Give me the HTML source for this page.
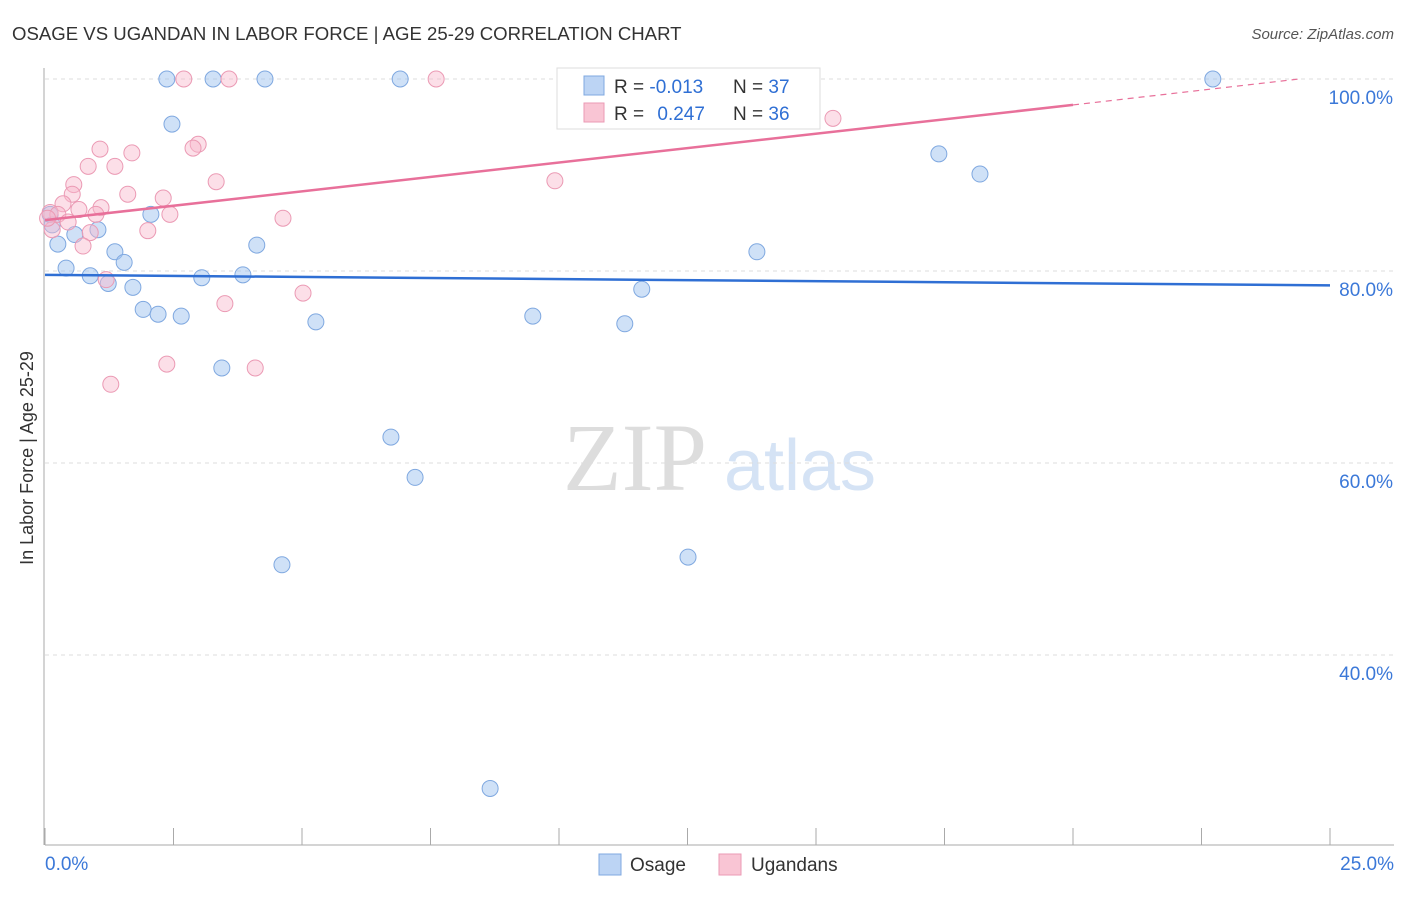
<!DOCTYPE html>
<html><head><meta charset="utf-8"><style>
body{margin:0;background:#fff;font-family:"Liberation Sans",sans-serif;}
</style></head><body>
<svg id="c" width="1406" height="892" font-family="Liberation Sans, sans-serif">
<text x="12" y="40" font-size="18.6" fill="#333">OSAGE VS UGANDAN IN LABOR FORCE | AGE 25-29 CORRELATION CHART</text>
<text x="1394" y="39" font-size="15" fill="#555" text-anchor="end" font-style="italic">Source: ZipAtlas.com</text>
<text x="33" y="458" font-size="18" fill="#333" text-anchor="middle" transform="rotate(-90 33 458)">In Labor Force | Age 25-29</text>
<g>
<text x="635" y="490" font-size="96" fill="#ddd" text-anchor="middle" style="font-family:'Liberation Serif',serif">ZIP</text>
<text x="800" y="490" font-size="72" fill="#d5e3f5" text-anchor="middle">atlas</text></g>
<g id="grid"></g><g id="axes"></g><g id="pts"></g><g id="trend"></g>
<g>
<rect x="557" y="68" width="263" height="61" fill="#fff" stroke="#ddd"/>
<rect x="584" y="76" width="20" height="19" fill="#bcd4f4" stroke="#7fa8e0"/>
<rect x="584" y="103" width="20" height="19" fill="#f9c5d4" stroke="#eb9ab4"/>
<text x="614" y="93" font-size="19" fill="#333">R = <tspan fill="#2f6fd4">-0.013</tspan></text>
<text x="733" y="93" font-size="19" fill="#333">N = <tspan fill="#2f6fd4">37</tspan></text>
<text x="614" y="120" font-size="19" fill="#333">R = <tspan fill="#2f6fd4" dx="8">0.247</tspan></text>
<text x="733" y="120" font-size="19" fill="#333">N = <tspan fill="#2f6fd4">36</tspan></text>
</g>
<g>
<rect x="599" y="854" width="22" height="21" fill="#bcd4f4" stroke="#7fa8e0"/>
<text x="630" y="871" font-size="19" fill="#333">Osage</text>
<rect x="719" y="854" width="22" height="21" fill="#f9c5d4" stroke="#eb9ab4"/>
<text x="751" y="871" font-size="19" fill="#333">Ugandans</text>
</g>
</svg>
<script>
const xTicks=[0,2.5,5,7.5,10,12.5,15,17.5,20,22.5,25];
const yTicks=[40,60,80,100];
const yTickLabels=["40.0%","60.0%","80.0%","100.0%"];
const osageX=[2.37,3.27,4.28,6.91,22.72,2.47,17.39,18.19,2.06,0.14,0.25,0.58,1.03,1.36,1.54,0.41,0.88,1.23,1.71,3.05,3.85,4.12,13.85,11.61,1.91,2.2,2.65,5.27,9.49,11.28,3.44,6.73,7.2,12.51,4.61,8.66,0.1];
const osageY=[100,100,100,100,100,95.3,92.2,90.1,85.9,84.8,82.8,83.8,84.3,82.0,80.9,80.3,79.5,78.7,78.3,79.3,79.6,82.7,82.0,78.1,76.0,75.5,75.3,74.7,75.3,74.5,69.9,62.7,58.5,50.2,49.4,26.1,85.9];
const ugX=[2.7,3.58,7.61,15.33,2.98,2.88,1.07,1.69,0.84,1.36,3.33,9.92,0.56,1.61,0.53,2.3,0.35,0.66,1.09,0.99,2.43,4.63,0.1,0.25,0.45,2.0,0.88,0.74,5.02,1.19,3.5,2.37,4.09,1.28,0.14,0.05];
const ugY=[100,100,100,95.9,93.2,92.8,92.7,92.3,90.9,90.9,89.3,89.4,89.0,88.0,88.0,87.6,87.0,86.4,86.6,85.9,85.9,85.5,86.1,85.9,85.1,84.2,84.0,82.6,77.7,79.1,76.6,70.3,69.9,68.2,84.3,85.5];
const osageTrend=[79.6,78.5];
const ugTrend=[85.3,97.3,100];
const ugTrendX=[0,20,24.4];
const NS="http://www.w3.org/2000/svg";
const X=v=>45+v*51.4, Y=v=>79+(100-v)*9.6;
function mk(p,t,a){const e=document.createElementNS(NS,t);for(const k in a)e.setAttribute(k,a[k]);document.getElementById(p).appendChild(e);return e;}
yTicks.forEach((t,i)=>{
 const g=mk('grid','line',{x1:45,x2:1394,y1:Y(t),y2:Y(t),stroke:'#ddd','stroke-dasharray':'4,4'});
 
 
 const l=mk('axes','text',{x:1393,y:Y(t)+25,'font-size':19,fill:'#3b78d8','text-anchor':'end'});
 l.textContent=yTickLabels[i];
 
 
});
const ax=mk('axes','line',{x1:45,x2:1394,y1:845,y2:845,stroke:'#aaa'});


const ay=mk('axes','line',{x1:44,x2:44,y1:68,y2:845,stroke:'#aaa'});


xTicks.forEach(t=>{const e=mk('axes','line',{x1:X(t),x2:X(t),y1:828,y2:845,stroke:'#aaa'});
 
 });
const xl0=mk('axes','text',{x:45,y:870,'font-size':19,fill:'#3b78d8'});xl0.textContent=xTicks[0].toFixed(1)+'%';


const xl1=mk('axes','text',{x:1394,y:870,'font-size':19,fill:'#3b78d8','text-anchor':'end'});xl1.textContent=xTicks[10].toFixed(1)+'%';


osageX.forEach((v,i)=>{const c=mk('pts','circle',{cx:X(v),cy:Y(osageY[i]),r:8,fill:'rgba(160,195,240,0.5)',stroke:'#7fa8e0'});
 
 });
ugX.forEach((v,i)=>{const c=mk('pts','circle',{cx:X(v),cy:Y(ugY[i]),r:8,fill:'rgba(248,185,205,0.45)',stroke:'#eb9ab4'});
 
 });
const t1=mk('trend','line',{x1:X(0),x2:X(25),y1:Y(osageTrend[0]),y2:Y(osageTrend[1]),stroke:'#2f6fd4','stroke-width':2.5});


const t2=mk('trend','line',{x1:X(ugTrendX[0]),x2:X(ugTrendX[1]),y1:Y(ugTrend[0]),y2:Y(ugTrend[1]),stroke:'#e8709a','stroke-width':2.5});


const t3=mk('trend','line',{x1:X(ugTrendX[1]),x2:X(ugTrendX[2]),y1:Y(ugTrend[1]),y2:Y(ugTrend[2]),stroke:'#e8709a','stroke-width':1.2,'stroke-dasharray':'6,5'});


</script>
</body></html>
